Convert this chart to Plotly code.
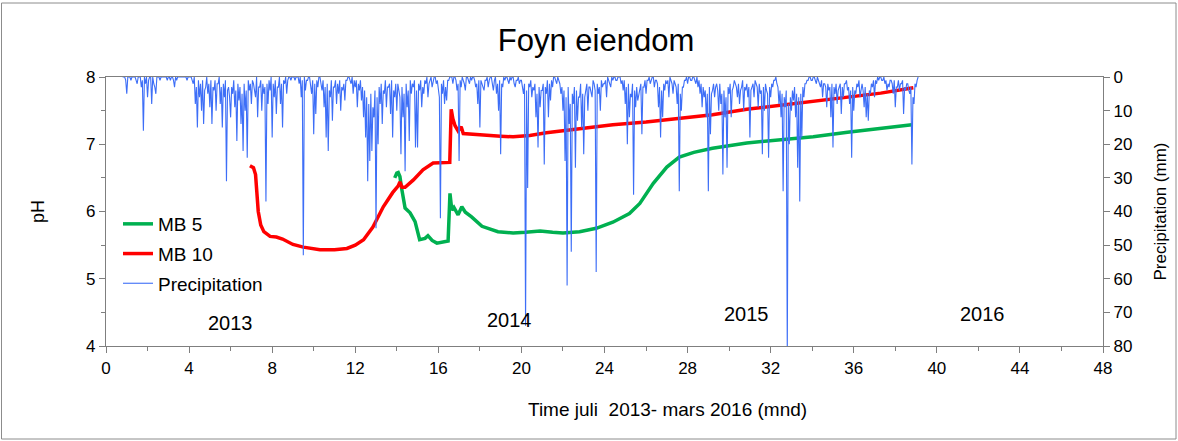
import plotly.graph_objects as go

# ---------------- data ----------------
# Precipitation (mm), one value every 0.05 month starting at month 0.8
precip_start = 0.8
precip_step = 0.05
precip = [
    0, 0, 0, 1,
    5, 0, 0, 0, 1, 0, 0, 0, 0, 1, 2, 0, 0, 0, 3, 1, 16, 0, 2, 0,          # 1
    6, 1, 0, 0, 8, 0, 2, 3, 5, 0, 0, 0, 1, 0, 0, 0, 0, 0, 0, 1,           # 2
    0, 0, 1, 0, 0, 1, 3, 0, 1, 0, 0, 0, 0, 0, 0, 0, 0, 0, 1, 0,           # 3
    0, 0, 0, 1, 2, 0, 8, 3, 15, 1, 6, 2, 10, 1, 14, 4, 3, 0, 5, 2,        # 4
    9, 1, 14, 3, 4, 1, 10, 2, 2, 0, 8, 3, 15, 2, 6, 1, 31, 4, 3, 6,       # 5
    12, 3, 5, 1, 9, 4, 19, 2, 7, 3, 14, 5, 22, 2, 10, 4, 24, 1, 4, 2,     # 6
    8, 1, 2, 4, 6, 0, 12, 3, 3, 1, 10, 2, 5, 3, 37, 2, 8, 1, 4, 0,        # 7
    18, 2, 6, 1, 11, 3, 3, 0, 8, 2, 15, 1, 2, 0, 5, 1, 0, 0, 1, 0,        # 8
    0, 0, 1, 0, 0, 0, 2, 0, 6, 1, 53, 0, 4, 1, 1, 0, 0, 2, 5, 1,          # 9
    17, 2, 11, 1, 3, 0, 0, 2, 4, 1, 9, 3, 18, 2, 22, 4, 6, 1, 13, 3,      # 10
    3, 1, 8, 2, 5, 1, 10, 3, 4, 2, 7, 1, 1, 0, 0, 1, 2, 0, 5, 1,          # 11
    3, 1, 9, 2, 4, 1, 7, 3, 12, 4, 18, 6, 31, 8, 25, 5, 22, 9, 12, 4,     # 12
    45, 6, 20, 3, 8, 2, 14, 4, 5, 1, 9, 3, 3, 2, 11, 1, 18, 4, 6, 2,      # 13
    10, 2, 4, 6, 23, 3, 12, 5, 28, 2, 9, 4, 19, 1, 5, 2, 3, 1, 21, 4,     # 14
    21, 2, 4, 1, 9, 3, 5, 1, 2, 0, 6, 2, 1, 0, 3, 1, 0, 0, 2, 1,          # 15
    3, 6, 42, 2, 5, 1, 8, 3, 7, 1, 1, 0, 0, 0, 2, 0, 0, 1, 4, 2,          # 16
    25, 1, 3, 0, 1, 2, 4, 0, 0, 1, 2, 0, 1, 0, 0, 1, 3, 2, 8, 1,          # 17
    15, 1, 2, 3, 4, 1, 1, 0, 3, 1, 0, 0, 2, 4, 1, 0, 5, 2, 10, 1,         # 18
    23, 2, 3, 0, 1, 0, 0, 1, 2, 0, 1, 0, 0, 2, 3, 1, 1, 0, 2, 1,          # 19
    1, 3, 5, 2, 74, 4, 33, 2, 3, 1, 6, 3, 4, 2, 12, 5, 21, 3, 9, 4,       # 20
    4, 2, 26, 3, 5, 1, 12, 2, 7, 1, 3, 0, 0, 1, 2, 0, 1, 2, 5, 3,         # 21
    10, 4, 25, 6, 62, 3, 14, 8, 52, 5, 8, 3, 27, 4, 13, 6, 6, 2, 15, 5,   # 22
    23, 6, 4, 2, 10, 3, 3, 5, 6, 1, 2, 4, 58, 2, 5, 3, 10, 1, 3, 2,       # 23
    2, 1, 6, 0, 1, 2, 3, 0, 1, 0, 0, 1, 1, 0, 0, 0, 2, 1, 4, 1,           # 24
    8, 3, 20, 2, 12, 5, 6, 2, 35, 4, 9, 3, 7, 5, 4, 2, 17, 3, 3, 1,       # 25
    5, 1, 1, 0, 2, 1, 0, 0, 3, 1, 1, 2, 9, 3, 18, 4, 12, 2, 4, 1,         # 26
    2, 1, 6, 0, 1, 2, 5, 1, 2, 3, 8, 2, 34, 5, 10, 3, 3, 1, 1, 0,         # 27
    2, 0, 0, 1, 1, 0, 0, 1, 2, 0, 3, 1, 5, 2, 9, 3, 6, 4, 12, 5,          # 28
    34, 3, 17, 5, 4, 2, 6, 3, 2, 4, 10, 2, 8, 5, 29, 4, 12, 6, 27, 3,     # 29
    5, 2, 12, 4, 3, 1, 2, 3, 6, 2, 8, 4, 3, 1, 10, 3, 4, 2, 6, 3,         # 30
    18, 4, 3, 2, 6, 1, 2, 3, 9, 2, 5, 4, 23, 3, 10, 2, 4, 5, 24, 3,       # 31
    6, 2, 3, 1, 1, 0, 2, 3, 8, 4, 12, 5, 34, 6, 9, 4, 82, 8, 20, 6,       # 32
    10, 4, 7, 3, 12, 5, 27, 6, 37, 5, 18, 3, 6, 2, 2, 1, 1, 0, 0, 1,      # 33
    1, 0, 0, 1, 2, 0, 1, 2, 3, 1, 6, 2, 2, 3, 9, 2, 4, 3, 12, 2,          # 34
    21, 3, 5, 2, 8, 4, 3, 2, 11, 3, 6, 2, 2, 1, 4, 3, 8, 4, 24, 3,        # 35
    10, 4, 5, 2, 3, 1, 6, 3, 2, 4, 9, 3, 12, 5, 13, 4, 5, 2, 3, 1,        # 36
    6, 1, 2, 0, 1, 0, 0, 1, 1, 0, 2, 1, 4, 2, 3, 1, 1, 2, 5, 1,           # 37
    9, 3, 3, 1, 4, 2, 2, 1, 11, 3, 4, 2, 2, 4, 5, 3, 26, 6, 8, 2,         # 38
    3, 1, 0,                                                              # 39
]
precip_months = [round(precip_start + precip_step * i, 3) for i in range(len(precip))]

mb10_months = [6.93, 7.1, 7.2, 7.25, 7.33, 7.45, 7.6, 7.9, 8.2, 8.5, 9.0, 9.5, 10.3,
               11.0, 11.6, 12.0, 12.4, 12.85, 13.35, 13.8, 14.07, 14.15, 14.25, 14.4,
               14.8, 15.26, 15.75, 16.55, 16.62, 16.7, 16.8, 16.95, 17.1, 17.2, 17.5,
               18.0, 19.0, 19.6, 20.4, 21.2, 22.8, 24.4, 26.0, 27.6, 29.2, 30.85,
               32.45, 34.05, 35.7, 37.3, 38.87]
mb10_ph = [6.68, 6.65, 6.55, 6.30, 6.0, 5.8, 5.7, 5.63, 5.62, 5.59, 5.51, 5.47, 5.43,
           5.43, 5.45, 5.5, 5.58, 5.77, 6.07, 6.28, 6.38, 6.44, 6.36, 6.36,
           6.47, 6.62, 6.72, 6.73, 7.52, 7.38, 7.28, 7.2, 7.26, 7.16, 7.15,
           7.14, 7.12, 7.11, 7.13, 7.17, 7.23, 7.29, 7.33, 7.39, 7.44, 7.52,
           7.58, 7.63, 7.70, 7.76, 7.84]

mb5_months = [13.9, 14.0, 14.07, 14.15, 14.23, 14.4, 14.64, 14.88, 15.1, 15.36, 15.5,
              15.7, 15.93, 16.2, 16.47, 16.56, 16.65, 16.75, 16.95, 17.13, 17.3, 17.6,
              18.1, 18.87, 19.6, 20.2, 20.9, 21.5, 22.0, 22.8, 23.6, 24.4, 25.2, 25.7,
              26.35, 27.0, 27.6, 28.3, 29.2, 30.85, 32.45, 34.05, 35.7, 37.3, 38.8]
mb5_ph = [6.50, 6.57, 6.58, 6.52, 6.35, 6.05, 5.98, 5.85, 5.58, 5.60, 5.64,
          5.57, 5.53, 5.54, 5.56, 6.27, 6.02, 6.06, 5.95, 6.07, 5.99, 5.92,
          5.78, 5.70, 5.68, 5.69, 5.71, 5.69, 5.68, 5.70, 5.75, 5.84, 5.97, 6.12,
          6.42, 6.66, 6.81, 6.88, 6.94, 7.02, 7.06, 7.11, 7.18, 7.24, 7.29]

year_labels = ["2013", "2014", "2015", "2016"]
year_label_months = [5.97, 19.45, 30.86, 42.2]
year_label_ph = [4.34, 4.39, 4.48, 4.48]

# ---------------- figure ----------------
FONT = "Liberation Sans, Arial, sans-serif"
W, H = 1178, 441
L, R, T, B = 106, 75, 77, 95
pw, ph = W - L - R, H - T - B

fig = go.Figure()
fig.add_trace(go.Scatter(x=mb5_months, y=mb5_ph, mode="lines", name="MB 5",
                         line=dict(color="#00B050", width=3.5), legendgroup="a", yaxis="y"))
fig.add_trace(go.Scatter(x=mb10_months, y=mb10_ph, mode="lines", name="MB 10",
                         line=dict(color="#FF0000", width=3.5), legendgroup="b", yaxis="y"))
fig.add_trace(go.Scatter(x=precip_months, y=precip, mode="lines", name="Precipitation",
                         line=dict(color="#3D6EF7", width=1.1), legendgroup="c", yaxis="y2"))

for txt, xm, yp in zip(year_labels, year_label_months, year_label_ph):
    fig.add_annotation(x=xm, y=yp, xref="x", yref="y", text=txt, showarrow=False,
                       font=dict(family=FONT, size=20, color="black"))


def px2paper_x(px):
    return (px - L) / pw


def px2paper_y(py):
    return (H - B - py) / ph


# x-axis title (offset to the right as in original)
fig.add_annotation(x=px2paper_x(667), y=px2paper_y(410), xref="paper", yref="paper",
                   xanchor="center", yanchor="middle",
                   text="Time juli  2013- mars 2016 (mnd)", showarrow=False,
                   font=dict(family=FONT, size=19, color="black"))

# outer frame
fig.add_shape(type="rect", xref="paper", yref="paper",
              x0=px2paper_x(1.5), x1=px2paper_x(1176), y0=px2paper_y(439), y1=px2paper_y(3),
              line=dict(color="#8c8c8c", width=1), fillcolor="rgba(0,0,0,0)", layer="below")

axis_common = dict(showgrid=False, zeroline=False, showline=True, linecolor="#7f7f7f",
                   linewidth=1.3, ticks="outside", tickcolor="#7f7f7f", ticklen=6,
                   tickfont=dict(family=FONT, size=17, color="black"))

fig.update_layout(
    width=W, height=H,
    margin=dict(l=L, r=R, t=T, b=B),
    paper_bgcolor="white", plot_bgcolor="white",
    title=dict(text="Foyn eiendom", x=596 / W, xref="container", xanchor="center",
               y=1 - 40 / H, yref="container", yanchor="middle",
               font=dict(family=FONT, size=31, color="black")),
    xaxis=dict(range=[0, 48], dtick=4, tick0=0, mirror=True,
               minor=dict(dtick=2, ticks="outside", ticklen=4, tickcolor="#7f7f7f"),
               **axis_common),
    yaxis=dict(range=[4, 8], dtick=1, mirror=False,
               minor=dict(dtick=0.5, ticks="outside", ticklen=4, tickcolor="#7f7f7f"),
               title=dict(text="pH", font=dict(family=FONT, size=18, color="black"), standoff=36),
               **axis_common),
    yaxis2=dict(range=[80, 0], dtick=10, overlaying="y", side="right",
                title=dict(text="Precipitation (mm)", font=dict(family=FONT, size=17, color="black"),
                           standoff=22),
                **axis_common),
    legend=dict(x=px2paper_x(118), y=px2paper_y(205), xanchor="left", yanchor="top",
                bgcolor="rgba(0,0,0,0)", font=dict(family=FONT, size=19, color="black"),
                traceorder="grouped", tracegroupgap=2),
    showlegend=True,
)

fig.write_html("out.html", config={"displayModeBar": False},
               post_script="document.body.style.margin='0px';")
